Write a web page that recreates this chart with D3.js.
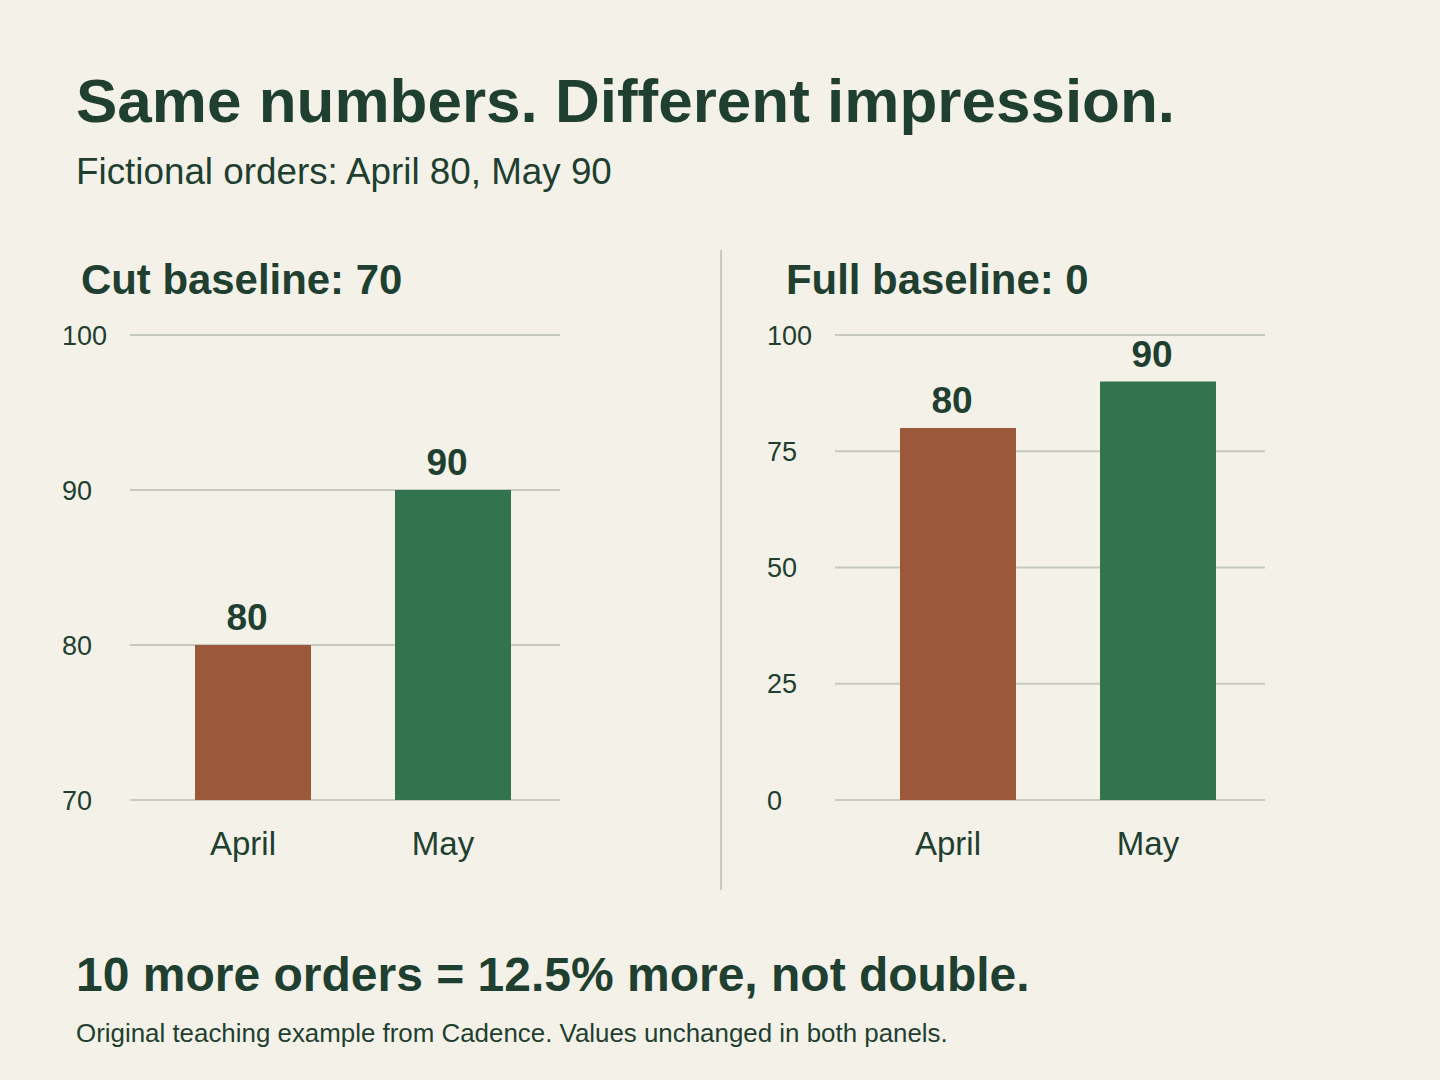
<!DOCTYPE html>
<html>
<head>
<meta charset="utf-8">
<script src="https://cdn.jsdelivr.net/npm/d3@7"></script>
<style>
    html, body { margin: 0; padding: 0; background: #f4f2e8; }
    svg { display: block; font-family: "Liberation Sans", Arial, sans-serif; }
</style>
</head>
<body>
<svg width="1440" height="1080"></svg>
<script>
    const months = ['April', 'May'];
    const orders = [80, 90];
    const barColors = ['#9b583b', '#31744e'];
    const cutTicks = [70, 80, 90, 100];
    const fullTicks = [0, 25, 50, 75, 100];

    const INK = '#1f3f31',
        GRID = '#c6c9bd',
        BG = '#f4f2e8';

    const svg = d3.select('svg');
    svg.append('rect').attr('width', 1440).attr('height', 1080).attr('fill', BG);

    // header
    svg.append('text')
        .attr('x', 76).attr('y', 122)
        .attr('font-size', 62).attr('font-weight', 700)
        .attr('fill', INK)
        .text('Same numbers. Different impression.');

    svg.append('text')
        .attr('x', 76).attr('y', 184)
        .attr('font-size', 36.8)
        .attr('fill', INK)
        .text('Fictional orders: April 80, May 90');

    // divider between panels
    svg.append('line')
        .attr('x1', 721).attr('x2', 721)
        .attr('y1', 250).attr('y2', 890)
        .attr('stroke', GRID).attr('stroke-width', 2);

    function panel(offsetX, title, domain, ticks) {
        const g = svg.append('g').attr('transform', `translate(${offsetX},0)`);

        const y = d3.scaleLinear().domain(domain).range([800, 335]);
        const x = d3.scaleBand()
            .domain(months)
            .range([153, 553])
            .paddingInner(0.42)
            .paddingOuter(0.21);

        g.append('text')
            .attr('x', 81).attr('y', 294)
            .attr('font-size', 41.9).attr('font-weight', 700)
            .attr('fill', INK)
            .text(title);

        // gridlines
        g.selectAll('.grid')
            .data(ticks)
            .enter()
            .append('line')
            .attr('x1', 130).attr('x2', 560)
            .attr('y1', d => y(d)).attr('y2', d => y(d))
            .attr('stroke', GRID).attr('stroke-width', 2);

        // tick labels
        g.selectAll('.tick-label')
            .data(ticks)
            .enter()
            .append('text')
            .attr('x', 62)
            .attr('y', d => y(d))
            .attr('dy', '0.36em')
            .attr('font-size', 27)
            .attr('fill', INK)
            .text(d => d);

        // bars
        g.selectAll('.bar')
            .data(orders)
            .enter()
            .append('rect')
            .attr('x', (d, i) => x(months[i]))
            .attr('width', x.bandwidth())
            .attr('y', d => y(d))
            .attr('height', d => y(domain[0]) - y(d))
            .attr('fill', (d, i) => barColors[i]);

        // value labels (sit a little left of bar centre)
        g.selectAll('.value')
            .data(orders)
            .enter()
            .append('text')
            .attr('x', (d, i) => x(months[i]) + x.bandwidth() / 2 - 6)
            .attr('y', d => y(d) - 15)
            .attr('text-anchor', 'middle')
            .attr('font-size', 37).attr('font-weight', 700)
            .attr('fill', INK)
            .text(d => d);

        // category labels
        g.selectAll('.cat')
            .data(months)
            .enter()
            .append('text')
            .attr('x', d => x(d) + x.bandwidth() / 2 - 10)
            .attr('y', 855)
            .attr('text-anchor', 'middle')
            .attr('font-size', 33)
            .attr('fill', INK)
            .text(d => d);
    }

    panel(0, 'Cut baseline: 70', [70, 100], cutTicks);
    panel(705, 'Full baseline: 0', [0, 100], fullTicks);

    // takeaway + note
    svg.append('text')
        .attr('x', 76).attr('y', 991)
        .attr('font-size', 48).attr('font-weight', 700)
        .attr('fill', INK)
        .text('10 more orders = 12.5% more, not double.');

    svg.append('text')
        .attr('x', 76).attr('y', 1042)
        .attr('font-size', 25.9)
        .attr('fill', INK)
        .text('Original teaching example from Cadence. Values unchanged in both panels.');
</script>
</body>
</html>
